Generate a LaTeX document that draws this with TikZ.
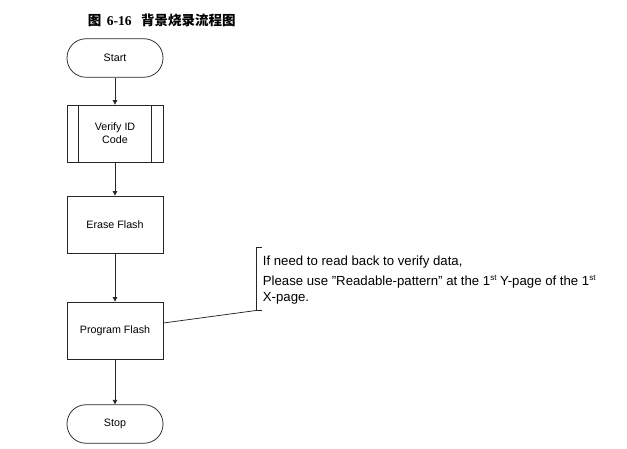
\documentclass[tikz,border=0pt]{standalone}
\usepackage{fontspec}
\setmainfont{Liberation Sans}
\newfontfamily\cjk{Noto Sans CJK SC}
\newfontfamily\serifb{Liberation Serif}
\usetikzlibrary{arrows.meta,calc}
\begin{document}
\begin{tikzpicture}[x=1pt,y=-1pt,
  line width=0.75pt, draw=black!85,
  box/.style={draw=black!85, line width=0.75pt, minimum width=96pt, inner sep=0pt, align=center, font=\fontsize{10.7}{12.8}\selectfont},
  proc/.style={box, rectangle, minimum height=57pt},
  term/.style={box, rectangle, rounded corners=19pt, minimum height=38.5pt},
  flow/.style={-{Triangle[length=4.5pt,width=4.5pt]}, draw=black!85, line width=0.75pt},
  note/.style={draw=black!85, line width=0.75pt}]
\useasboundingbox (0,0) rectangle (627,449);
% title
\node[anchor=west, inner sep=0pt] (title) at (87.5,20)
  {\fontsize{13.5}{15}\selectfont\cjk\bfseries 图\hspace{5.5pt}{\serifb\bfseries 6-16}\hspace{9.5pt}背景烧录流程图};
% nodes
\node[term] (start) at (115,58) {Start};
\node[proc] (verify) at (115,133.5) {Verify ID\\Code};
\draw[note] ($(verify.north west)+(12,0)$) -- ($(verify.south west)+(12,0)$);
\draw[note] ($(verify.north east)+(-12,0)$) -- ($(verify.south east)+(-12,0)$);
\node[proc] (erase) at (115,224.5) {Erase Flash};
\node[proc] (program) at (115,330.5) {Program Flash};
\node[term] (stop) at (115,424) {Stop};
% connectors
\draw[flow] (start) -- (verify);
\draw[flow] (verify) -- (erase);
\draw[flow] (erase) -- (program);
\draw[flow] (program) -- (stop);
% annotation
\coordinate (bt) at (262,247);
\coordinate (bb) at (262,310.5);
\coordinate (lead) at (256,310.5);
\draw[note] (bt) -- (256,247) -- (lead) -- (bb);
\draw[note] ($(program.east)+(0,-7.5)$) -- (lead);
\node[anchor=north west, inner sep=0pt, align=left, font=\fontsize{13.2}{16.5}\selectfont] (text) at (262.5,255.5)
  {If need to read back to verify data,\\[3.5pt]
   Please use ”Readable-pattern” at the 1{\fontsize{8}{8}\selectfont\raisebox{4.5pt}{st}} Y-page of the 1{\fontsize{8}{8}\selectfont\raisebox{4.5pt}{st}}\\
   X-page.};
\end{tikzpicture}
\end{document}
